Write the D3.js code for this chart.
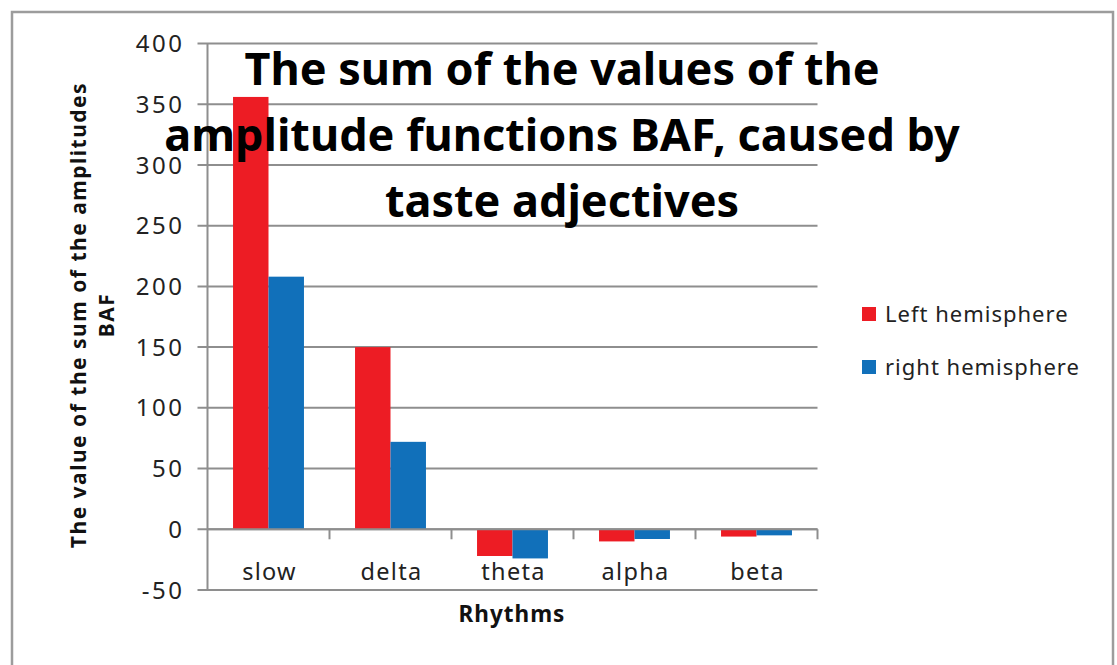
<!DOCTYPE html>
<html lang="en">
<head>
    <title>BAF sum by rhythm</title>
    <script src="https://d3js.org/d3.v7.min.js"></script>
    <style>
        body { margin: 0; background: #fff; }
        text { font-family: "Noto Sans", "Open Sans", sans-serif; }
    </style>
</head>
<body>
    <div id="chart"></div>
    <script>

        // chart data
        const rhythms = ["slow", "delta", "theta", "alpha", "beta"];
        const seriesNames = ["Left hemisphere", "right hemisphere"];
        const leftValues = [356, 150, -22, -10, -6];
        const rightValues = [208, 72, -24, -8, -5];
        const yTicks = [-50, 0, 50, 100, 150, 200, 250, 300, 350, 400];
        const titleLines = ["The sum of the values of the", "amplitude functions BAF, caused by", "taste adjectives"];
        const yLabelLines = ["The value  of the sum of the amplitudes", "BAF"];
        const colors = ["#ed1c24", "#1170ba"];

        const width = 1117, height = 665;
        const plotLeft = 207.5, plotRight = 817.5, plotTop = 43.5, plotBottom = 590;

        const svg = d3.select("#chart")
            .append("svg")
            .attr("width", width)
            .attr("height", height)
            .style("background-color", "#fff");

        // outer frame
        svg.append("rect")
            .attr("x", 12).attr("y", 12)
            .attr("width", 1101).attr("height", 700)
            .attr("fill", "none")
            .attr("stroke", "#9c9c9c")
            .attr("stroke-width", 2.5);

        const y = d3.scaleLinear().domain([-50, 400]).range([plotBottom, plotTop]);
        const x0 = d3.scaleBand().domain(rhythms).range([plotLeft, plotRight]);
        const x1 = d3.scaleBand().domain(seriesNames).range([0, x0.bandwidth()]).paddingOuter(0.72);

        // gridlines with small ticks on the left
        svg.append("g").selectAll("line")
            .data(yTicks)
            .enter()
                .append("line")
                .attr("x1", plotLeft - 10)
                .attr("x2", plotRight)
                .attr("y1", d => y(d))
                .attr("y2", d => y(d))
                .attr("stroke", "#8e8e8e")
                .attr("stroke-width", 2);

        // y tick labels
        svg.append("g").selectAll("text")
            .data(yTicks)
            .enter()
                .append("text")
                .attr("x", 184.5)
                .attr("y", d => y(d))
                .attr("dy", "0.36em")
                .attr("text-anchor", "end")
                .attr("font-size", 24)
                .attr("letter-spacing", 2.5)
                .attr("fill", "#222")
                .text(d => d);

        // vertical axis
        svg.append("line")
            .attr("x1", plotLeft).attr("x2", plotLeft)
            .attr("y1", plotTop).attr("y2", plotBottom)
            .attr("stroke", "#8e8e8e")
            .attr("stroke-width", 2);

        // bars
        const rows = rhythms.map((r, i) => ({ name: r, vals: [leftValues[i], rightValues[i]] }));
        const groups = svg.append("g").selectAll("g")
            .data(rows)
            .enter()
                .append("g")
                .attr("transform", d => `translate(${x0(d.name)},0)`);

        groups.selectAll("rect")
            .data(d => d.vals.map((v, j) => ({ s: seriesNames[j], v: v, j: j })))
            .enter()
                .append("rect")
                .attr("x", d => x1(d.s))
                .attr("width", x1.bandwidth())
                .attr("y", d => y(Math.max(0, d.v)))
                .attr("height", d => Math.abs(y(d.v) - y(0)))
                .attr("fill", d => colors[d.j]);

        // x axis at zero with category ticks
        const zeroY = y(0);
        svg.append("line")
            .attr("x1", plotLeft).attr("x2", plotRight)
            .attr("y1", zeroY).attr("y2", zeroY)
            .attr("stroke", "#8e8e8e")
            .attr("stroke-width", 2);

        const catEdges = rhythms.map(r => x0(r)).concat([plotRight]).slice(1);
        svg.append("g").selectAll("line")
            .data(catEdges)
            .enter()
                .append("line")
                .attr("x1", d => d).attr("x2", d => d)
                .attr("y1", zeroY).attr("y2", zeroY + 10)
                .attr("stroke", "#8e8e8e")
                .attr("stroke-width", 2);

        // category labels
        svg.append("g").selectAll("text")
            .data(rhythms)
            .enter()
                .append("text")
                .attr("x", d => x0(d) + x0.bandwidth() / 2 + 1)
                .attr("y", 580)
                .attr("text-anchor", "middle")
                .attr("font-size", 23.5)
                .attr("letter-spacing", 1.3)
                .attr("fill", "#222")
                .text(d => d);

        // x axis title
        svg.append("text")
            .attr("x", 512).attr("y", 622)
            .attr("text-anchor", "middle")
            .attr("font-size", 22.5)
            .attr("letter-spacing", 1)
            .attr("font-weight", "bold")
            .attr("fill", "#111")
            .text("Rhythms");

        // y axis title, two rotated lines
        svg.append("g").selectAll("text")
            .data(yLabelLines)
            .enter()
                .append("text")
                .attr("transform", (d, i) => `translate(${i === 0 ? 86 : 114},315) rotate(-90)`)
                .attr("text-anchor", "middle")
                .attr("font-size", 21)
                .attr("letter-spacing", 1.5)
                .attr("font-weight", "bold")
                .attr("fill", "#111")
                .text(d => d);

        // chart title drawn over the plot
        svg.append("g").selectAll("text")
            .data(titleLines)
            .enter()
                .append("text")
                .attr("x", 562)
                .attr("y", (d, i) => 85 + i * 66)
                .attr("text-anchor", "middle")
                .attr("font-size", 45)
                .attr("font-weight", "bold")
                .attr("fill", "#000")
                .text(d => d);

        // legend
        const legend = svg.append("g").selectAll("g")
            .data(seriesNames)
            .enter()
                .append("g")
                .attr("transform", (d, i) => `translate(862,${307 + i * 53})`);

        legend.append("rect")
            .attr("width", 14).attr("height", 14)
            .attr("fill", (d, i) => colors[i]);

        legend.append("text")
            .attr("x", 23).attr("y", 7)
            .attr("dy", "0.36em")
            .attr("font-size", 22)
            .attr("letter-spacing", 1)
            .attr("fill", "#222")
            .text(d => d);

    </script>
</body>
</html>
